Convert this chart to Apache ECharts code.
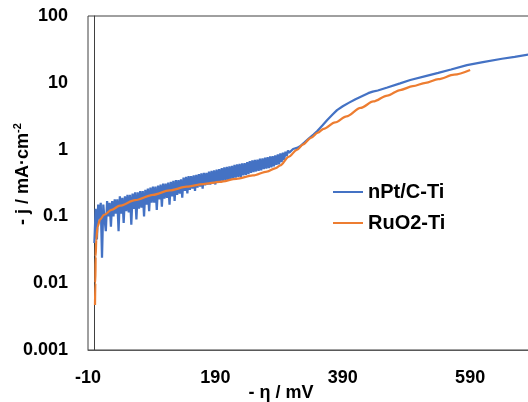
<!DOCTYPE html>
<html>
<head>
<meta charset="utf-8">
<script src="https://cdn.jsdelivr.net/npm/echarts@6/dist/echarts.min.js"></script>
<style>
  html, body { margin: 0; padding: 0; background: #fff; }
  #chart { width: 528px; height: 402px; }
</style>
</head>
<body>
<div id="chart"></div>
<script>
// y 轴刻度文字（对数轴）
const yTickLabels = ['0.001', '0.01', '0.1', '1', '10', '100']

// nPt/C-Ti: 过电位 (mV)，前段为噪声带，每 2 mV 一个点
const ptX = [0, 2, 4, 6, 8, 10, 12, 14, 16, 18,
  20, 22, 24, 26, 28, 30, 32, 34, 36, 38,
  40, 42, 44, 46, 48, 50, 52, 54, 56, 58,
  60, 62, 64, 66, 68, 70, 72, 74, 76, 78,
  80, 82, 84, 86, 88, 90, 92, 94, 96, 98,
  100, 102, 104, 106, 108, 110, 112, 114, 116, 118,
  120, 122, 124, 126, 128, 130, 132, 134, 136, 138,
  140, 142, 144, 146, 148, 150, 152, 154, 156, 158,
  160, 162, 164, 166, 168, 170, 172, 174, 176, 178,
  180, 182, 184, 186, 188, 190, 192, 194, 196, 198,
  200, 202, 204, 206, 208, 210, 212, 214, 216, 218,
  220, 222, 224, 226, 228, 230, 232, 234, 236, 238,
  240, 242, 244, 246, 248, 250, 252, 254, 256, 258,
  260, 262, 264, 266, 268, 270, 272, 274, 276, 278,
  280, 282, 284, 286, 288, 290, 292, 294, 296, 298,
  300, 302, 304, 306, 312, 318, 323, 330, 337, 344,
  350, 358, 366, 374, 381, 390, 400, 410, 420, 430,
  437, 445, 460, 480, 496, 520, 540, 560, 585, 610,
  640, 660, 684]
// nPt/C-Ti: 电流密度 (mA/cm2)
const ptY = [0.04, 0.13, 0.045, 0.15, 0.09, 0.16, 0.024, 0.15, 0.09, 0.06,
  0.17, 0.1, 0.16, 0.07, 0.17, 0.1, 0.18, 0.11, 0.18, 0.06,
  0.2, 0.11, 0.19, 0.08, 0.2, 0.12, 0.21, 0.115, 0.21, 0.075,
  0.22, 0.13, 0.23, 0.09, 0.23, 0.13, 0.24, 0.135, 0.24, 0.1,
  0.25, 0.15, 0.26, 0.12, 0.27, 0.16, 0.28, 0.16, 0.28, 0.125,
  0.29, 0.18, 0.3, 0.14, 0.31, 0.185, 0.31, 0.19, 0.32, 0.15,
  0.33, 0.2, 0.34, 0.17, 0.35, 0.21, 0.35, 0.22, 0.36, 0.19,
  0.38, 0.24, 0.39, 0.22, 0.4, 0.25, 0.4, 0.26, 0.41, 0.24,
  0.42, 0.27, 0.43, 0.28, 0.44, 0.26, 0.45, 0.29, 0.45, 0.3,
  0.47, 0.3, 0.48, 0.31, 0.49, 0.3, 0.5, 0.32, 0.51, 0.33,
  0.53, 0.34, 0.54, 0.35, 0.55, 0.34, 0.56, 0.36, 0.57, 0.37,
  0.59, 0.38, 0.6, 0.39, 0.61, 0.39, 0.62, 0.41, 0.63, 0.42,
  0.65, 0.43, 0.67, 0.45, 0.69, 0.46, 0.7, 0.47, 0.71, 0.48,
  0.73, 0.49, 0.74, 0.51, 0.76, 0.52, 0.77, 0.53, 0.79, 0.54,
  0.8, 0.56, 0.82, 0.59, 0.85, 0.6, 0.88, 0.65, 0.9, 0.7,
  0.93, 0.8, 0.97, 0.9, 1.02, 1.06, 1.12, 1.28, 1.47, 1.68,
  1.9, 2.3, 2.8, 3.35, 3.9, 4.45, 5.05, 5.69, 6.31, 7.0,
  7.36, 7.67, 8.5, 9.8, 11, 12.6, 14.1, 15.8, 18.4, 20.4,
  22.9, 24.5, 26.6]

// RuO2-Ti
const ruX = [1, 1.5, 2, 3, 5, 9, 15, 27, 40, 64, 92, 118, 145, 171, 197, 223, 249, 271, 285, 292,
  305, 318, 328, 340, 351, 360, 378, 396, 418, 438, 460, 480, 500, 520, 540, 565, 590]
const ruY = [0.0047, 0.01, 0.025, 0.045, 0.07, 0.09, 0.105, 0.125, 0.145, 0.175, 0.21, 0.245, 0.278, 0.305, 0.33, 0.365, 0.41, 0.47, 0.53, 0.58,
  0.78, 0.99, 1.2, 1.5, 1.8, 2.05, 2.55, 3.15, 4.2, 5.25, 6.45, 7.8, 8.9, 10, 11.35, 13.2, 15.5]

const zip = (xs, ys) => xs.map((x, i) => [x, ys[i]])

const labelFont = {
  color: '#000',
  fontFamily: 'Liberation Sans, Arial, sans-serif',
  fontWeight: 'bold',
  fontSize: 18
}

const myChart = echarts.init(document.getElementById('chart'))
const option = {
  backgroundColor: '#fff',
  animation: false,
  grid: {
    left: 88,
    right: -2,
    top: 16,
    bottom: 52,
    containLabel: false,
    outerBoundsMode: 'none',
    show: true,
    borderColor: '#404040',
    borderWidth: 1
  },
  legend: {
    orient: 'vertical',
    left: 328,
    top: 177,
    icon: 'rect',
    itemWidth: 30,
    itemHeight: 2,
    itemGap: 11,
    textStyle: Object.assign({}, labelFont, { fontSize: 20, lineHeight: 20 }),
    data: ['nPt/C-Ti', 'RuO2-Ti']
  },
  xAxis: {
    type: 'value',
    min: -10,
    max: 684,
    interval: 200,
    name: '- η / mV',
    nameLocation: 'middle',
    nameGap: 34,
    nameMoveOverlap: false,
    nameTextStyle: Object.assign({}, labelFont, { padding: [0, 56, 0, 0] }),
    axisLine: { lineStyle: { color: '#595959' } },
    axisTick: { show: false },
    splitLine: { show: false },
    axisLabel: Object.assign({}, labelFont, { margin: 19, showMaxLabel: false })
  },
  yAxis: {
    type: 'log',
    logBase: 10,
    min: 0.001,
    max: 100,
    name: '{n|- j / mA·cm}{s|-2}',
    nameLocation: 'middle',
    nameGap: 54,
    nameRotate: 90,
    nameMoveOverlap: false,
    nameTextStyle: {
      padding: [0, 0, 0, 18],
      rich: {
        n: Object.assign({}, labelFont, { lineHeight: 22 }),
        s: Object.assign({}, labelFont, { fontSize: 11, lineHeight: 22, verticalAlign: 'top' })
      }
    },
    axisLine: { show: true, lineStyle: { color: '#404040' } },
    axisTick: { show: false },
    splitLine: { show: false },
    axisLabel: Object.assign({}, labelFont, {
      margin: 20,
      formatter: function (v) {
        return yTickLabels[Math.round(Math.log10(v)) + 3]
      }
    })
  },
  series: [
    {
      name: 'nPt/C-Ti',
      type: 'line',
      data: zip(ptX, ptY),
      symbol: 'none',
      lineStyle: { color: '#4472C4', width: 2.25 },
      itemStyle: { color: '#4472C4' }
    },
    {
      name: 'RuO2-Ti',
      type: 'line',
      data: zip(ruX, ruY),
      symbol: 'none',
      smooth: 0.3,
      smoothMonotone: 'x',
      lineStyle: { color: '#ED7D31', width: 2.25 },
      itemStyle: { color: '#ED7D31' }
    }
  ]
}
myChart.setOption(option)
</script>
</body>
</html>
